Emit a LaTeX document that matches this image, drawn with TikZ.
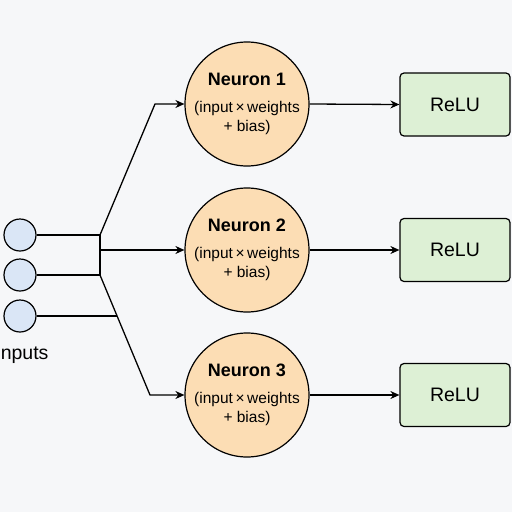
\documentclass[tikz,border=0pt]{standalone}
\usepackage{fontspec}
\setmainfont{Liberation Sans}
\usetikzlibrary{arrows.meta}
\definecolor{bgc}{HTML}{F6F7F9}
\definecolor{inblue}{HTML}{DAE6F6}
\definecolor{neuronc}{HTML}{FCDDB4}
\definecolor{reluc}{HTML}{DDF0D5}
\tikzset{
  inputnode/.style={circle,draw=black,line width=1.2pt,fill=inblue,minimum size=32pt,inner sep=0pt},
  neuronnode/.style={circle,draw=black,line width=1.2pt,fill=neuronc,minimum size=124pt,inner sep=0pt,align=center,font=\fontsize{15.5}{19.5}\selectfont},
  relunode/.style={rectangle,rounded corners=4pt,draw=black,line width=1.2pt,fill=reluc,minimum width=110pt,minimum height=63pt,inner sep=0pt,font=\fontsize{19.5}{21}\selectfont},
  conn/.style={line width=1.3pt},
  arr/.style={line width=1.3pt,-{Stealth[length=9pt,width=8pt]}}
}
\newcommand{\neurontext}[1]{{\fontsize{18}{20}\selectfont\bfseries Neuron #1}\\[7pt](input\,×\,weights\\+ bias)}
\begin{document}
\begin{tikzpicture}[x=1pt,y=-1pt]
\fill[bgc] (0,0) rectangle (512,512);
\useasboundingbox (0,0) rectangle (512,512);
% inputs
\node[inputnode] (in1) at (20,235) {};
\node[inputnode] (in2) at (20,275) {};
\node[inputnode] (in3) at (20,316) {};
\node[anchor=east,font=\fontsize{19.5}{21}\selectfont] (inlabel) at (52,355) {Inputs};
% neurons
\node[neuronnode] (n1) at (247,104) {\neurontext{1}};
\node[neuronnode] (n2) at (247,250) {\neurontext{2}};
\node[neuronnode] (n3) at (247,395) {\neurontext{3}};
% relu
\node[relunode] (r1) at (455,104.5) {ReLU};
\node[relunode] (r2) at (455,250) {ReLU};
\node[relunode] (r3) at (455,395) {ReLU};
% junctions
\coordinate (j1) at (100,235);
\coordinate (j2) at (100,275);
\coordinate (jm) at (100,250);
\coordinate (k1) at (155,104);
\coordinate (k3) at (150,395);
\coordinate (j3) at (117,316);
\draw[conn] (in1.east) -- (j1);
\draw[conn] (in2.east) -- (j2);
\draw[conn] (in3.east) -- (j3);
\draw[conn] (j1) -- (j2);
\draw[arr] (j1) -- (k1) -- (n1.west);
\draw[arr] (jm) -- (n2.west);
\draw[arr] (j2) -- (k3) -- (n3.west);
\draw[arr] (n1.east) -- (r1.west);
\draw[arr] (n2.east) -- (r2.west);
\draw[arr] (n3.east) -- (r3.west);
\end{tikzpicture}
\end{document}
